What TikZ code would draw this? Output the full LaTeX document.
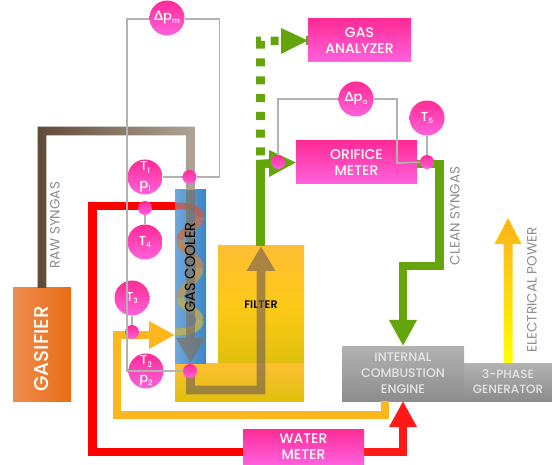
\documentclass[tikz,border=0pt]{standalone}
\usepackage{fontspec}
\setmainfont{Poppins}[BoldFont={Poppins SemiBold}]
\newfontfamily\med{Poppins Medium}
\newfontfamily\grk{Lato Bold}
\usetikzlibrary{arrows.meta}
\definecolor{pinkT}{HTML}{FF2B96}
\definecolor{pinkB}{HTML}{FF62DD}
\definecolor{greenP}{HTML}{63A50B}
\definecolor{yelP}{HTML}{FDB71E}
\definecolor{lineG}{HTML}{B2B2B2}
\definecolor{labelG}{HTML}{8C8C8C}
\definecolor{brownD}{HTML}{5F4A36}
\definecolor{brownL}{HTML}{B0A498}
\newcommand{\sbs}[1]{\raisebox{-2.4pt}{\fontsize{7.5}{7.5}\selectfont #1}}
\tikzset{
  x=1pt,y=-1pt,
  pinkbox/.style={inner sep=0pt,top color=pinkT,bottom color=pinkB,text=white,align=center,font=\med\fontsize{14}{16}\selectfont},
  bubble/.style={circle,inner sep=0pt,minimum size=35pt,top color=pinkT,bottom color=pinkB,text=white,align=center,font=\med\fontsize{13}{18}\selectfont},
  dotn/.style={circle,inner sep=0pt,minimum size=14pt,top color=pinkT,bottom color=pinkB},
  greybox/.style={inner sep=0pt,top color=black!30,bottom color=black!45,text=white!90!black,align=center,font=\med\fontsize{12.5}{16}\selectfont},
  pipe/.style={line width=8.6pt,line join=miter},
  bigtip/.style={-{Triangle[width=26pt,length=26pt]}},
  signal/.style={draw=lineG,line width=1.6pt},
  sidelabel/.style={rotate=90,text=labelG,font=\fontsize{13.5}{15}\selectfont,inner sep=0pt},
  coilseg/.style={line width=7pt,opacity=.85},
}
\begin{document}
\begin{tikzpicture}
\useasboundingbox (0,0) rectangle (552,465);
% ---- boxes
\node[inner sep=0pt,minimum width=58pt,minimum height=113pt,left color={rgb,255:red,238;green,141;blue,80},right color={rgb,255:red,233;green,108;blue,20}] (gasifier) at (42,344.5) {};
\node[rotate=90,text=white,font=\med\fontsize{20}{22}\selectfont] (gaslab) at (42,349) {GASIFIER};
\node[inner sep=0pt,minimum width=86pt,minimum height=117pt,top color=yelP!90!white,bottom color=yelP!50!yellow!88!black,middle color=yellow!25!yelP,font=\bfseries\fontsize{11}{12}\selectfont] (filter) at (261,304.5) {FILTER};
\node[inner sep=0pt,minimum width=129pt,minimum height=38pt,top color=yelP!90!white,bottom color=yelP!50!yellow!88!black] (filterbase) at (239.5,382) {};
\node[inner sep=0pt,minimum width=31pt,minimum height=173pt,left color={rgb,255:red,111;green,168;blue,220},right color={rgb,255:red,61;green,133;blue,198}] (cooler) at (190.5,276.5) {};
\node[pinkbox,minimum width=103pt,minimum height=43pt] (analyzer) at (359.5,40.5) {GAS\\ANALYZER};
\node[pinkbox,minimum width=121pt,minimum height=43pt] (orifice) at (356.5,162.5) {ORIFICE\\METER};
\node[pinkbox,minimum width=121pt,minimum height=36pt] (water) at (303.5,447) {WATER\\METER};
\node[greybox,minimum width=122pt,minimum height=55pt] (engine) at (403,373.5) {INTERNAL\\COMBUSTION\\ENGINE};
\node[greybox,minimum width=88pt,minimum height=38pt,font=\med\fontsize{12}{15}\selectfont] (generator) at (508,382) {3-PHASE\\GENERATOR};
% ---- free ends
\coordinate (rawA) at (42,288);
\coordinate (rawB) at (42,131);
\coordinate (rawC) at (190.5,131);
\coordinate (rawD) at (190.5,190);
\coordinate (rawE) at (190.5,363);
\coordinate (coilIn) at (175,206);
\coordinate (redA) at (92.5,206);
\coordinate (redB) at (92.5,452);
\coordinate (redC) at (403,452);
\coordinate (engRed) at (403,401);
\coordinate (retA) at (385,401);
\coordinate (retB) at (385,415);
\coordinate (retC) at (117,415);
\coordinate (retD) at (117,335);
\coordinate (retE) at (175,335);
\coordinate (cleanA) at (190.5,370);
\coordinate (cleanB) at (190.5,390);
\coordinate (cleanC) at (261,390);
\coordinate (cleanD) at (261,246);
\coordinate (grA) at (260.5,246);
\coordinate (grB) at (260.5,164);
\coordinate (grC) at (269,163.5);
\coordinate (dashA) at (260.5,155.5);
\coordinate (dashB) at (260.5,41);
\coordinate (outA) at (417,164);
\coordinate (outB) at (439.5,164);
\coordinate (outC) at (439.5,266);
\coordinate (outD) at (403,266);
\coordinate (engGreen) at (403,346);
\coordinate (powerEnd) at (508,218);
\coordinate (genTop) at (508,363);
% ---- raw syngas (gradient stroke)
\draw[pipe,draw=brownD] (rawA) -- (rawB) -- (rawC) -- (rawD);
\shade[left color=brownD,right color=brownL]
  (37.7,288) -- (37.7,126.7) -- (194.8,126.7) -- (194.8,190) -- (186.2,190) -- (186.2,135.3) -- (46.3,135.3) -- (46.3,288) -- cycle;
% ---- coil
\draw[coilseg,draw={rgb,255:red,200;green,90;blue,80}] (coilIn) to[out=0,in=90] (200,217);
\draw[coilseg,draw={rgb,255:red,194;green,112;blue,82}] (200,217) to[out=-90,in=90] (180,240);
\draw[coilseg,draw={rgb,255:red,190;green,135;blue,85}] (180,240) to[out=-90,in=90] (200,268);
\draw[coilseg,draw={rgb,255:red,186;green,155;blue,90}] (200,268) to[out=-90,in=90] (180,298);
\draw[coilseg,draw={rgb,255:red,186;green,170;blue,90}] (180,298) to[out=-90,in=90] (200,320);
\draw[coilseg,draw={rgb,255:red,190;green,178;blue,85}] (200,320) to[out=-90,in=0] (175,332);
% ---- translucent gas inside cooler and filter
\begin{scope}[transparency group,opacity=.72]
\draw[pipe,draw={rgb,255:red,125;green,115;blue,100},-{Triangle[width=27pt,length=25pt]}] (rawD) -- (rawE);
\end{scope}
\begin{scope}[transparency group,opacity=.62]
\draw[pipe,draw={rgb,255:red,115;green,95;blue,80},-{Triangle[width=27pt,length=25pt]}] (cleanA) -- (cleanB) -- (cleanC) -- (cleanD);
\end{scope}
\node[rotate=90,text=black,inner sep=0pt,font=\fontsize{14.5}{16}\selectfont] (coolerlab) at (190,267.5) {GAS COOLER};
% ---- water and return
\draw[pipe,draw=red] (coilIn) -- (redA) -- (redB) -- (water.west |- redB);
\draw[pipe,draw=red!90!white,bigtip] (water.east |- redC) -- (redC) -- (engRed);
\draw[pipe,draw=yelP,bigtip] (retA) -- (retB) -- (retC) -- (retD) -- (retE);
% ---- clean syngas
\draw[pipe,draw=greenP] (grA) -- (grB) -- (grC);
\draw[draw=none,fill=greenP] (orifice.west) -- (269,150) -- (269,177) -- cycle;
\draw[pipe,draw=greenP,dash pattern=on 8pt off 9.8pt] (dashA) -- (dashB) -- (analyzer.west);
\fill[greenP] (analyzer.west) -- (281,28) -- (281,54) -- cycle;
\draw[pipe,draw=greenP,bigtip] (outA) -- (outB) -- (outC) -- (outD) -- (engGreen);
% ---- electrical power
\draw[pipe,draw=yellow,bigtip] (genTop) -- (powerEnd);
\shade[bottom color=yellow,top color=yelP!90!orange]
  (503.5,363) -- (503.5,244) -- (495,244) -- (powerEnd) -- (521,244) -- (512.5,244) -- (512.5,363) -- cycle;
% ---- instruments
\node[bubble] (dpm) at (167,18) {{\grk Δ}p\sbs{m}};
\node[bubble] (t1) at (145,177) {T\sbs{1}\\p\sbs{1}};
\node[dotn] (d1) at (189.5,177) {};
\node[bubble] (t4) at (145,242) {T\sbs{4}};
\node[dotn] (d4) at (145,208) {};
\node[bubble] (t3) at (132,298) {T\sbs{3}};
\node[dotn] (d3) at (132,332) {};
\node[bubble] (t2) at (146,371) {T\sbs{2}\\p\sbs{2}};
\node[dotn] (d2) at (190,371) {};
\node[bubble] (dpo) at (356,99) {{\grk Δ}p\sbs{o}};
\node[bubble] (t5) at (427,118) {T\sbs{5}};
\node[dotn] (d5) at (278,162) {};
\node[dotn] (d6) at (427,162) {};
\coordinate (sigR) at (219.5,177);
\coordinate (sigRt) at (219.5,19);
\coordinate (sigLt) at (127,19);
\coordinate (sigLb) at (127,371);
\coordinate (oA) at (278,99);
\coordinate (oB) at (397,99);
\coordinate (oC) at (397,163);
\draw[signal] (t1) -- (d1);
\draw[signal] (d1) -- (sigR) -- (sigRt) -- (dpm.east |- sigRt);
\draw[signal] (dpm.west |- sigLt) -- (sigLt) -- (sigLb) -- (d2);
\draw[signal] (d4) -- (t4);
\draw[signal] (d3) -- (t3);
\draw[signal] (d5) -- (oA) -- (dpo);
\draw[signal] (dpo) -- (oB) -- (oC) -- (d6);
\draw[signal] (t5) -- (d6);
% ---- labels
\node[sidelabel] (lraw) at (55,225.5) {RAW SYNGAS};
\node[sidelabel] (lclean) at (455,216) {CLEAN SYNGAS};
\node[sidelabel] (lpower) at (532,290) {ELECTRICAL POWER};
\end{tikzpicture}
\end{document}
